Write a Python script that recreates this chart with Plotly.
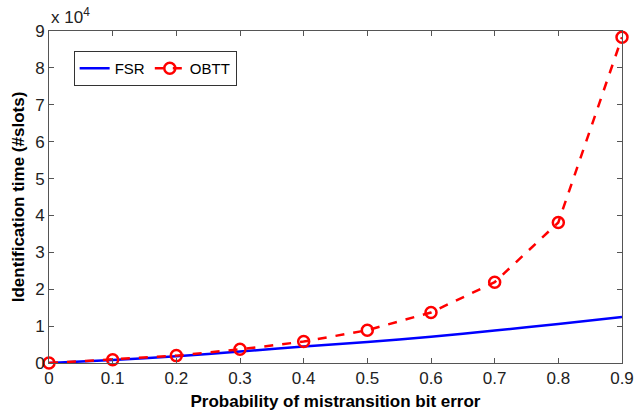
import plotly.graph_objects as go

x_vals = [0, 0.1, 0.2, 0.3, 0.4, 0.5, 0.6, 0.7, 0.8, 0.9]
fsr = [0, 800, 1800, 3100, 4500, 5700, 7100, 8800, 10600, 12500]
obtt = [0, 900, 2000, 3700, 5800, 8900, 13700, 21900, 38100, 88300]
x_ticks = [0, 0.1, 0.2, 0.3, 0.4, 0.5, 0.6, 0.7, 0.8, 0.9]
x_ticktext = ["0", "0.1", "0.2", "0.3", "0.4", "0.5", "0.6", "0.7", "0.8", "0.9"]
y_ticks = [0, 10000, 20000, 30000, 40000, 50000, 60000, 70000, 80000, 90000]
y_ticktext = ["0", "1", "2", "3", "4", "5", "6", "7", "8", "9"]

fig = go.Figure()
fig.add_trace(go.Scatter(
    x=x_vals, y=fsr, name="FSR", mode="lines",
    line=dict(color="#0000ff", width=2.5, shape="spline", smoothing=0.6),
    cliponaxis=False,
))
fig.add_trace(go.Scatter(
    x=x_vals, y=obtt, name="OBTT", mode="lines+markers",
    line=dict(color="#ff0000", width=2.5, dash="dash"),
    marker=dict(symbol="circle-open", size=11, color="#ff0000", line=dict(width=2.5, color="#ff0000")),
    cliponaxis=False,
))

axis_common = dict(
    showline=True, linecolor="#555555", linewidth=1, mirror="allticks",
    ticks="inside", ticklen=5, tickcolor="#555555", showgrid=False, zeroline=False,
    automargin=False,
    tickfont=dict(family="Liberation Sans, Arial", size=17, color="#222222"),
)
fig.update_xaxes(range=[0, 0.9], tickvals=x_ticks, ticktext=x_ticktext,
                 title=dict(text="<b>Probability of mistransition bit error</b>",
                            font=dict(family="Liberation Sans, Arial", size=17, color="#000"),
                            standoff=14),
                 **axis_common)
fig.update_yaxes(range=[0, 90000], tickvals=y_ticks, ticktext=y_ticktext,
                 title=dict(text="<b>Identification time (#slots)</b>",
                            font=dict(family="Liberation Sans, Arial", size=17, color="#000"),
                            standoff=6),
                 **axis_common)

fig.add_annotation(xref="paper", yref="paper", x=0, y=1, xanchor="left", yanchor="bottom",
                   yshift=2, xshift=0, showarrow=False,
                   text="x 10<sup>4</sup>",
                   font=dict(family="Liberation Sans, Arial", size=17, color="#222222"))

fig.update_layout(
    width=636, height=411,
    margin=dict(l=49, r=14, t=31, b=48, autoexpand=False),
    paper_bgcolor="white", plot_bgcolor="white",
    showlegend=True,
    legend=dict(orientation="h", x=0.043, y=0.94, xanchor="left", yanchor="top",
                bgcolor="white", bordercolor="#333333", borderwidth=1,
                font=dict(family="Liberation Sans, Arial", size=15, color="#000"),
                itemwidth=30, tracegroupgap=0, traceorder="normal"),
)
fig.write_html("out.html")
